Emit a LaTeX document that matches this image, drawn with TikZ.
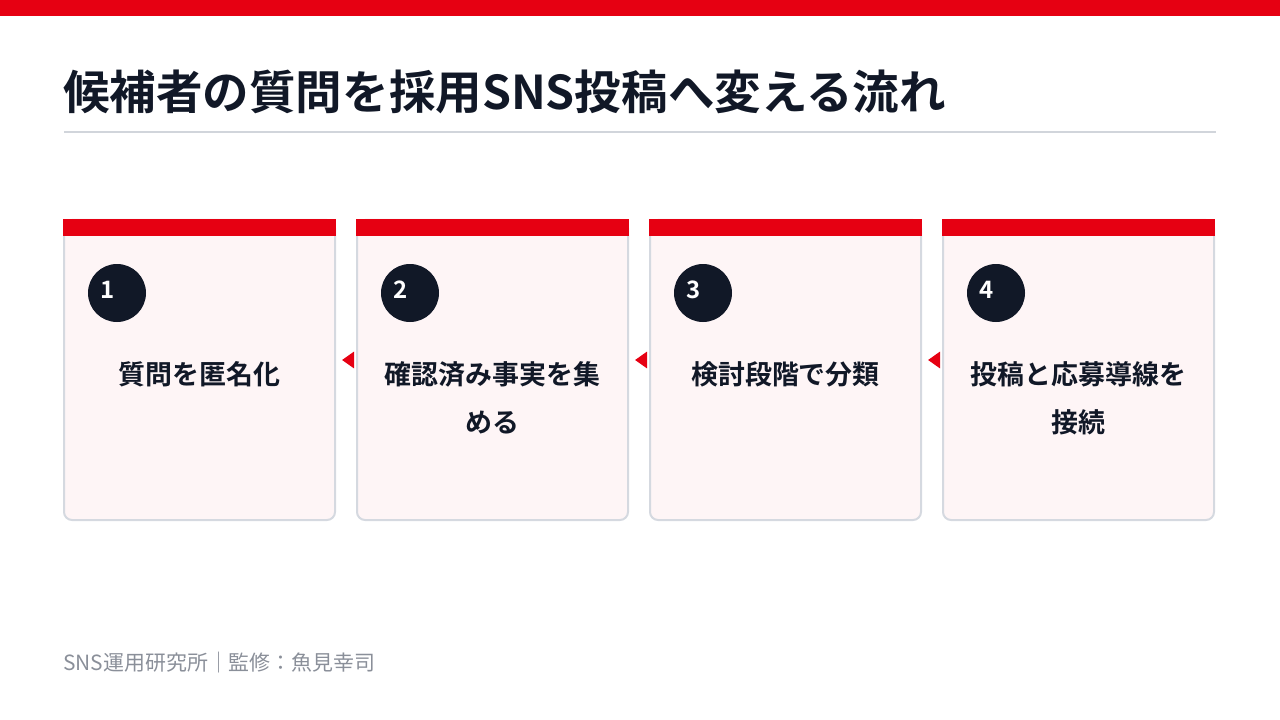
\documentclass[tikz,border=0pt]{standalone}
\usepackage{fontspec}
\setmainfont{Noto Sans CJK JP}[BoldFont={Noto Sans CJK JP Bold}]
\usepackage{xcolor}
\usetikzlibrary{arrows.meta}

\definecolor{brandred}{HTML}{E60012}
\definecolor{inkdark}{HTML}{111827}
\definecolor{cardfill}{HTML}{FEF5F6}
\definecolor{cardline}{HTML}{D5D9E0}
\definecolor{rulegray}{HTML}{D1D5DB}
\definecolor{footgray}{HTML}{8A8F99}

\tikzset{
  card/.style={draw=cardline, fill=cardfill, line width=1.5pt, rounded corners=6pt,
    minimum width=203.25pt, minimum height=225pt, inner sep=0pt},
  numdot/.style={circle, fill=inkdark, minimum size=43.5pt, inner sep=0pt},
  numtext/.style={text=white, font=\bfseries\fontsize{18}{18}\selectfont, inner sep=0pt},
  steptext/.style={text=inkdark, align=center, anchor=north, inner sep=0pt,
    font=\bfseries\fontsize{20.2}{36.5}\selectfont},
  flowarrow/.style={brandred, line width=2.2pt, -{Triangle[width=12pt,length=9pt]},
    shorten >=4.5pt, shorten <=2.25pt}
}

\begin{document}
\begin{tikzpicture}[x=0.75pt, y=-0.75pt]
        \useasboundingbox (0,0) rectangle (1280,720);
        % top bar and title
        \fill[brandred] (0,0) rectangle (1280,16);
        \node[anchor=base west, inner sep=0pt, text=inkdark, font=\bfseries\fontsize{34.9}{34.9}\selectfont] (title) at (63,110) {候補者の質問を採用SNS投稿へ変える流れ};
        \draw[rulegray, line width=1.5pt] (64,132) -- (1216,132);

        % cards
        \node[card] (c1) at (199.5,370) {};
        \node[card] (c2) at (492.5,370) {};
        \node[card] (c3) at (785.5,370) {};
        \node[card] (c4) at (1078.5,370) {};
        \fill[brandred] (c1.north west) rectangle ([yshift=-12.75pt]c1.north east);
        \fill[brandred] (c2.north west) rectangle ([yshift=-12.75pt]c2.north east);
        \fill[brandred] (c3.north west) rectangle ([yshift=-12.75pt]c3.north east);
        \fill[brandred] (c4.north west) rectangle ([yshift=-12.75pt]c4.north east);

        % step numbers
        \node[numdot] (d1) at (117,293) {};
        \node[numdot] (d2) at (410,293) {};
        \node[numdot] (d3) at (703,293) {};
        \node[numdot] (d4) at (996,293) {};
        \node[numtext] (n1) at (108,290) {1};
        \node[numtext] (n2) at (401,290) {2};
        \node[numtext] (n3) at (694,290) {3};
        \node[numtext] (n4) at (987,290) {4};

        % step texts
        \node[steptext] (s1) at (199.5,361) {質問を匿名化};
        \node[steptext] (s2) at (492.5,361) {確認済み事実を集\\める};
        \node[steptext] (s3) at (785.5,361) {検討段階で分類};
        \node[steptext] (s4) at (1078.5,361) {投稿と応募導線を\\接続};

        % arrows
        \draw[flowarrow] ([yshift=7.5pt]c2.west) -- ([yshift=7.5pt]c1.east);
        \draw[flowarrow] ([yshift=7.5pt]c3.west) -- ([yshift=7.5pt]c2.east);
        \draw[flowarrow] ([yshift=7.5pt]c4.west) -- ([yshift=7.5pt]c3.east);

        % footer
        \node[anchor=base west, inner sep=0pt, text=footgray, font=\fontsize{15.7}{15.7}\selectfont] (foot) at (63,670) {SNS運用研究所｜監修：魚見幸司};
\end{tikzpicture}
\end{document}
